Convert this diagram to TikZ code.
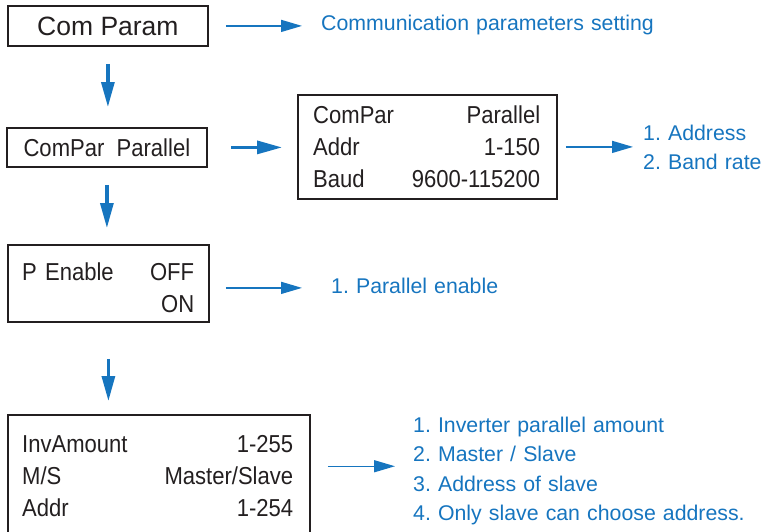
\documentclass[tikz,border=0pt]{standalone}
\usepackage{fontspec}
\setmainfont{Liberation Sans}
\newfontfamily\lcdfont[FakeStretch=0.9]{Liberation Sans}
\usepackage{xcolor}
\usepackage{tikz}
\usetikzlibrary{arrows.meta,positioning,calc}

\definecolor{hintblue}{RGB}{22,117,191}
\definecolor{ink}{RGB}{35,31,32}

\begin{document}
\frenchspacing
\begin{tikzpicture}[
    x=1pt,
    y=-1pt,
    menubox/.style={draw=ink, line width=1.8pt, inner sep=0pt, anchor=north west},
    lcd/.style={font=\lcdfont\fontsize{24.5}{32}\selectfont, text=ink, inner sep=0pt,
                align=left, anchor=base west},
    hint/.style={font=\fontsize{21.3}{29.5}\selectfont, text=hintblue, inner sep=0pt,
                 align=left, anchor=base west},
    feed/.style={-{Triangle[length=21pt,width=12pt]}, line width=1.5pt, hintblue},
    godown/.style={-{Triangle[length=25pt,width=13pt]}, line width=3.2pt, hintblue},
]
\clip (0,0) rectangle (763,531);

% menu screens
\node[menubox, minimum width=200pt, minimum height=40pt,
      font=\fontsize{26.5}{30}\selectfont, text=ink] (comparam) at (7,5) {Com Param};
\node[menubox, minimum width=200pt, minimum height=39pt,
      font=\lcdfont\fontsize{24.5}{30}\selectfont, text=ink] (comline) at (6,127)
      {ComPar\ \ Parallel};
\node[menubox, minimum width=259pt, minimum height=104pt] (setframe) at (297,94) {};
\node[menubox, minimum width=201pt, minimum height=77pt] (enframe) at (7,244) {};
\node[menubox, minimum width=302pt, minimum height=125pt] (invframe) at (7,414) {};

% screen texts
\node[lcd, text width=227pt] (setlines) at (313,123)
  {ComPar\hfill Parallel\\Addr\hfill 1-150\\Baud\hfill 9600-115200};
\node[lcd, text width=172pt] (enlines) at (22,280)
  {P Enable\hfill OFF\\\hfill ON};
\node[lcd, text width=271pt] (invlines) at (22,452)
  {InvAmount\hfill 1-255\\M/S\hfill Master/Slave\\Addr\hfill 1-254};

% notes
\node[hint, text width=340pt] (info1) at (321,30) {Communication parameters setting};
\node[hint, text width=140pt] (info2) at (643,140) {1. Address\\2. Band rate};
\node[hint, text width=200pt] (info3) at (331,293) {1. Parallel enable};
\node[hint, text width=345pt] (info4) at (413,432)
  {1. Inverter parallel amount\\2. Master / Slave\\3. Address of slave\\4. Only slave can choose address.};

% flow down
\draw[godown, shorten <=17pt, shorten >=20pt] (comparam.south) -- (comparam.south |- comline.north);
\draw[godown, shorten <=17pt, shorten >=16pt] (comline.south) -- (comline.south |- enframe.north);
\draw[godown, shorten <=36pt, shorten >=13pt] (enframe.south) -- (enframe.south |- invframe.north);
\draw[godown, shorten <=23pt, shorten >=15pt] (comline.east) -- (comline.east -| setframe.west);

% explanations
\draw[feed, shorten <=17pt, shorten >=19pt] (comparam.east) -- (comparam.east -| info1.west);
\draw[feed, shorten <=8pt, shorten >=10pt] (setframe.east) -- (setframe.east -| info2.west);
\draw[feed, shorten <=16pt, shorten >=29pt]
  ([yshift=-2.5pt]info3.west -| enframe.east) -- ([yshift=-2.5pt]info3.west);
\draw[feed, shorten <=17pt, shorten >=18pt]
  ([yshift=4.5pt]info4.west -| invframe.east) -- ([yshift=4.5pt]info4.west);
\end{tikzpicture}
\end{document}
